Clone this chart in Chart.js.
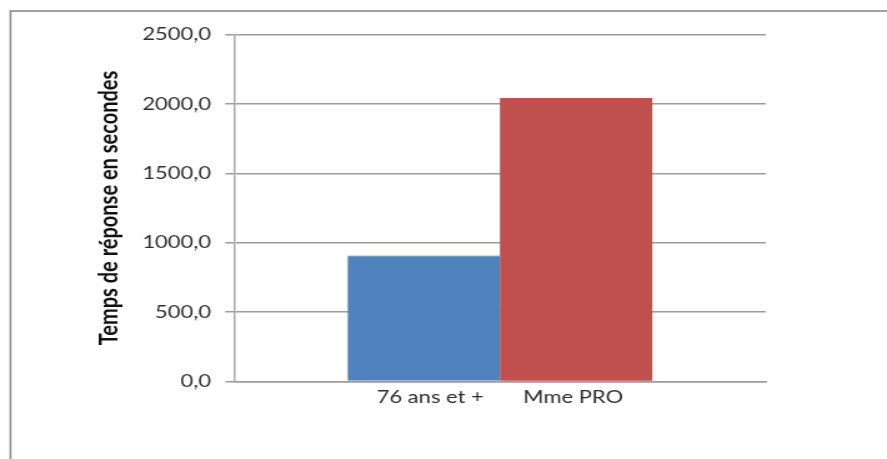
<!DOCTYPE html>
<html lang="fr">
<head>
<meta charset="utf-8">
<title>Temps de réponse</title>
<script src="https://cdn.jsdelivr.net/npm/chart.js@4/dist/chart.umd.min.js"></script>
<style>
  html, body { margin: 0; padding: 0; background: #ffffff; overflow: hidden; }
  /* The chart is laid out on a narrower surface and widened to the page width */
  #wrap {
    position: absolute; left: 0; top: 0;
    width: 710px; height: 459px;
    transform: scaleX(1.2493); transform-origin: 0 0;
  }
</style>
</head>
<body>
<div id="wrap"><canvas id="chart"></canvas></div>
<script>
// Series shown side by side in the single group
const seriesNames = ['76 ans et +', 'Mme PRO'];
const seriesValues = [909, 2042];
const seriesColors = ['#4F81BD', '#C0504D'];

// Value axis
const yTickValues = [0, 500, 1000, 1500, 2000, 2500];
const yTickLabels = ['0,0', '500,0', '1000,0', '1500,0', '2000,0', '2500,0'];
const yTitle = 'Temps de réponse en secondes';

// One category carrying both series names underneath the bars
const categoryLabels = [seriesNames.join('       ')];

const textColor = '#2e2e2e';
const gridColor = '#9c9c9c';

// Chart-area frame (left and top edges inside the page)
const framePlugin = {
  id: 'frame',
  beforeDraw(chart) {
    const ctx = chart.ctx;
    ctx.save();
    ctx.strokeStyle = '#8a8a8a';
    ctx.lineWidth = 1.6;
    ctx.strokeRect(8.4, 11, chart.width + 40, chart.height + 40);
    ctx.restore();
  }
};

new Chart(document.getElementById('chart'), {
  type: 'bar',
  data: {
    labels: categoryLabels,
    datasets: seriesNames.map((name, i) => ({
      label: name,
      data: [seriesValues[i]],
      backgroundColor: seriesColors[i],
      borderColor: i === 0 ? '#a9c1e0' : seriesColors[i],
      borderWidth: i === 0 ? { top: 1, left: 0, right: 0, bottom: 0 } : 0,
      borderSkipped: false,
      barPercentage: 1,
      categoryPercentage: 0.573
    }))
  },
  options: {
    responsive: true,
    maintainAspectRatio: false,
    animation: false,
    layout: { padding: { left: 0, right: 97, top: 34.5, bottom: 47.5 } },
    plugins: {
      legend: { display: false },
      tooltip: { enabled: false }
    },
    scales: {
      x: {
        grid: { display: false, drawTicks: false },
        border: { display: true, color: gridColor, width: 1.5 },
        ticks: {
          color: textColor,
          padding: 5.5,
          maxRotation: 0,
          autoSkip: false,
          font: { family: 'Lato', size: 17.6 }
        },
        afterFit(scale) { scale.height = 30; }
      },
      y: {
        min: 0,
        max: 2500,
        ticks: {
          stepSize: 500,
          color: textColor,
          padding: 11.4,
          font: { family: 'Lato', size: 17.6 },
          callback: (v) => {
            const i = yTickValues.indexOf(v);
            return i >= 0 ? yTickLabels[i] : '';
          }
        },
        grid: { color: gridColor, lineWidth: 1.5, tickLength: 7, drawTicks: true },
        border: { display: true, color: '#a8a8a8', width: 1.5 },
        title: {
          display: true,
          text: yTitle,
          color: '#111111',
          padding: { top: 75.5, bottom: 0 },
          font: { family: 'Lato', size: 20, weight: 'bold', lineHeight: 1.2 }
        },
        afterFit(scale) { scale.width = 187.3; }
      }
    }
  },
  plugins: [framePlugin]
});
</script>
</body>
</html>
